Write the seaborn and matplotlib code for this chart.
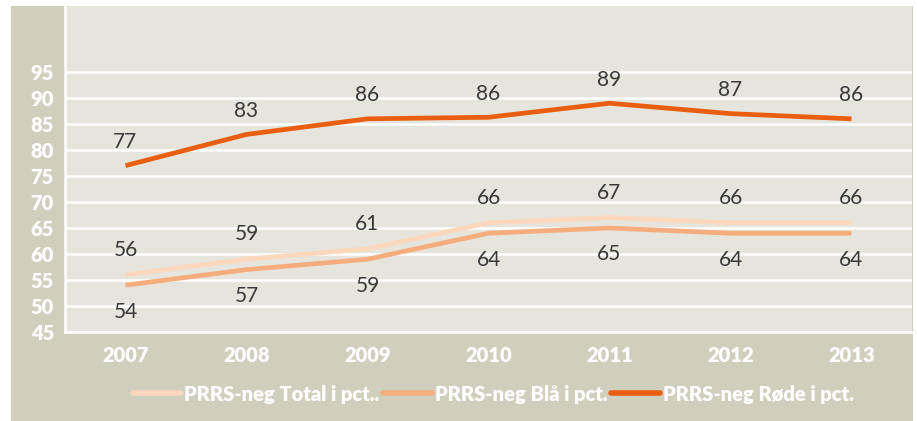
import pandas as pd
import matplotlib.pyplot as plt
import seaborn as sns
from matplotlib.patches import Rectangle
from matplotlib.lines import Line2D

years = ["2007", "2008", "2009", "2010", "2011", "2012", "2013"]
total = [56, 59, 61, 66, 67, 66, 66]
blaa = [54, 57, 59, 64, 65, 64, 64]
roede = [77, 83, 86, 86.3, 89, 87, 86]
yticks = [45, 50, 55, 60, 65, 70, 75, 80, 85, 90, 95]
series_names = ["PRRS-neg Total i pct..", "PRRS-neg Blå i pct.", "PRRS-neg Røde i pct."]
colors = ["#fbd8bb", "#f6ad7e", "#e95e10"]

df = pd.DataFrame({
    "year": years * 3,
    "value": total + blaa + roede,
    "serie": [series_names[0]] * 7 + [series_names[1]] * 7 + [series_names[2]] * 7,
})
df["pos"] = df["year"].map({y: i for i, y in enumerate(years)})

sns.set_style("white")
plt.rcParams["font.family"] = ["Lato", "DejaVu Sans"]

fig = plt.figure(figsize=(9.17, 4.21), dpi=100)
fig.patch.set_facecolor("white")
# dark panel behind the chart
fig.patches.append(Rectangle((11 / 917, 0), 902 / 917, 415 / 421, transform=fig.transFigure,
                             facecolor="#d0cebd", edgecolor="none", zorder=-10))
ax = fig.add_axes([65 / 917, 89 / 421, 847 / 917, 326 / 421])
ax.set_zorder(1)
ax.set_facecolor("#e6e5dd")

sns.lineplot(data=df, x="pos", y="value", hue="serie", palette=colors,
             hue_order=series_names, linewidth=3.4, ax=ax, legend=False,
             solid_capstyle="butt")

# data labels
offsets = {series_names[0]: 18, series_names[1]: -19, series_names[2]: 17}
for name, vals in zip(series_names, [total, blaa, roede]):
    for i, v in enumerate(vals):
        ax.annotate(f"{v:.0f}", (i, v), xytext=(0, offsets[name]), textcoords="offset points",
                    ha="center", va="center", fontsize=15, fontweight="normal", color="#383838")

ax.set_xlim(-0.5, 6.5)
ax.set_ylim(45, 107.7)
ax.set_yticks(yticks)
ax.set_yticklabels([str(t) for t in yticks], fontweight="heavy", fontsize=14.5, color="white")
ax.set_xticks(range(7))
ax.set_xticklabels(years, fontweight="heavy", fontsize=14.5, color="white")
ax.set_xticks([i + 0.5 for i in range(-1, 7)], minor=True)
ax.grid(axis="y", color="white", linewidth=1.8)
ax.set_axisbelow(True)
ax.tick_params(axis="y", colors="white", length=5, width=1.8, pad=3)
ax.tick_params(axis="x", which="major", colors="white", length=0, pad=10)
ax.tick_params(axis="x", which="minor", colors="white", length=5, width=1.8)
for side in ["top", "right"]:
    ax.spines[side].set_visible(False)
for side in ["left", "bottom"]:
    ax.spines[side].set_color("white")
    ax.spines[side].set_linewidth(1.8)
ax.set_xlabel("")
ax.set_ylabel("")

handles = [Line2D([0], [0], color=c, linewidth=4) for c in colors]
leg = fig.legend(handles, series_names, loc="center", bbox_to_anchor=(493 / 917, 1 - 394 / 421),
                 ncol=3, frameon=False, handlelength=2.4, handletextpad=0.15, columnspacing=0.2,
                 prop={"size": 14.5, "weight": "heavy"})
for t in leg.get_texts():
    t.set_color("white")

fig.savefig("out.png", dpi=100)
